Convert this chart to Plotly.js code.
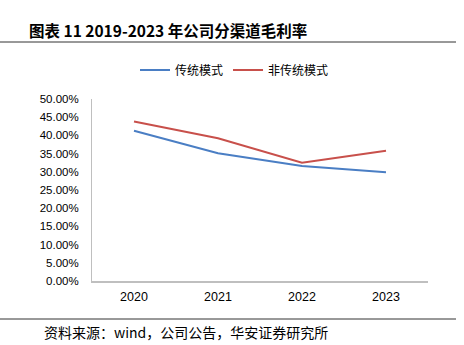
<!DOCTYPE html>
<html>
<head>
<meta charset="utf-8">
<script src="https://cdn.plot.ly/plotly-3.0.1.min.js"></script>
<style>html,body{margin:0;padding:0;background:#fff;}#chart{width:464px;height:345px;}</style>
</head>
<body>
<div id="chart"></div>
<script>
const years = ['2020', '2021', '2022', '2023'];
const traditional = [41.3, 35.1, 31.6, 29.9];
const nonTraditional = [43.8, 39.2, 32.5, 35.8];
const seriesNames = ['传统模式', '非传统模式'];
const yTicks = [0, 5, 10, 15, 20, 25, 30, 35, 40, 45, 50];
const yTickText = yTicks.map(v => v.toFixed(2) + '%');
const chartTitle = '图表 11 2019-2023 年公司分渠道毛利率';
const sourceText = '资料来源：wind，公司公告，华安证券研究所';

const W = 464, H = 345;
const mL = 92, mR = 36, mT = 99, mB = 64;
const pw = W - mL - mR, ph = H - mT - mB;
const px = x => (x - mL) / pw;
const py = y => (H - mB - y) / ph;

const cjk = '"Noto Sans CJK SC", "Liberation Sans", Arial, sans-serif';
const traces = [
  {x: years, y: traditional, name: seriesNames[0], type: 'scatter', mode: 'lines',
   line: {color: '#4A7EC4', width: 2}},
  {x: years, y: nonTraditional, name: seriesNames[1], type: 'scatter', mode: 'lines',
   line: {color: '#C8504B', width: 2}}
];

const layout = {
  width: W, height: H,
  margin: {l: mL, r: mR, t: mT, b: mB, pad: 0},
  paper_bgcolor: '#fff', plot_bgcolor: '#fff',
  font: {family: '"Liberation Sans", Arial, sans-serif', size: 11, color: '#000'},
  showlegend: true,
  legend: {orientation: 'h', x: px(135), xanchor: 'left', y: py(70), yanchor: 'middle',
    font: {family: cjk, size: 12, color: '#000'}, itemwidth: 30, tracegroupgap: 0,
    bgcolor: 'rgba(0,0,0,0)'},
  xaxis: {type: 'category', range: [-0.5, 3.5], showgrid: false, zeroline: false,
    showline: true, linecolor: '#BFBFBF', linewidth: 1.5, ticks: '', ticklabelstandoff: 3,
    tickfont: {size: 12.5, family: '"Liberation Sans", Arial, sans-serif'}, fixedrange: true},
  yaxis: {range: [0, 50], tickvals: yTicks, ticktext: yTickText, showgrid: false, zeroline: false,
    showline: true, linecolor: '#BFBFBF', linewidth: 1, ticks: '', ticklabelstandoff: 10,
    tickfont: {size: 11.5, family: '"Liberation Sans", Arial, sans-serif'}, fixedrange: true},
  shapes: [
    {type: 'line', xref: 'paper', yref: 'paper', x0: px(0), x1: px(456), y0: py(42), y1: py(42),
     line: {color: '#333', width: 1}},
    {type: 'line', xref: 'paper', yref: 'paper', x0: px(0), x1: px(456), y0: py(319), y1: py(319),
     line: {color: '#333', width: 1}}
  ],
  annotations: [
    {text: '<b>' + chartTitle + '</b>', xref: 'paper', yref: 'paper', x: px(27), y: py(30),
     xanchor: 'left', yanchor: 'middle', showarrow: false,
     font: {family: cjk, size: 15.5, color: '#000'}},
    {text: sourceText, xref: 'paper', yref: 'paper', x: px(42), y: py(332),
     xanchor: 'left', yanchor: 'middle', showarrow: false,
     font: {family: cjk, size: 14, color: '#000'}}
  ]
};

Plotly.newPlot('chart', traces, layout, {displayModeBar: false, staticPlot: true});
</script>
</body>
</html>
